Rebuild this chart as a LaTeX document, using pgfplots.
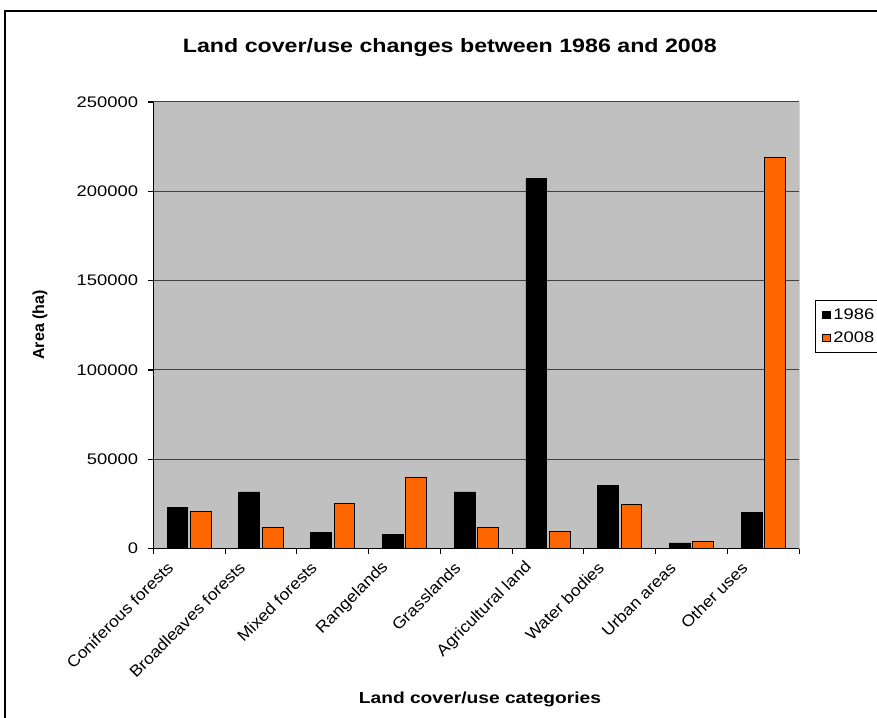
\documentclass[border=0pt]{standalone}
\usepackage{fontspec}
\setmainfont{Liberation Sans}[FakeStretch=1.2]
\newfontfamily\rotfont{Liberation Sans}
\newfontfamily\diagfont{Liberation Sans}[FakeStretch=1.1]
\usepackage{pgfplots}
\pgfplotsset{compat=1.18}
\definecolor{barorange}{RGB}{255,102,0}
\definecolor{plotgray}{RGB}{192,192,192}
\begin{document}
\begin{tikzpicture}
\path[use as bounding box] (-115pt,-127pt) rectangle (542.8pt,411.5pt);
\draw[line width=1.1pt] (-111.2pt,-300pt) rectangle (700pt,403.3pt);
\begin{axis}[
  scale only axis,
  width=484.5pt, height=335pt,
  ybar, bar width=0.29,
  xmin=-0.5, xmax=8.5,
  ymin=0, ymax=250000,
  ytick={0,50000,100000,150000,200000,250000},
  yticklabels={0,50000,100000,150000,200000,250000},
  scaled y ticks=false,
  xtick={0,...,8},
  xticklabels={Coniferous forests,Broadleaves forests,Mixed forests,Rangelands,Grasslands,Agricultural land,Water bodies,Urban areas,Other uses},
  minor xtick={-0.5,0.5,...,8.5},
  major x tick style={draw=none},
  minor x tick style={black, line width=0.8pt},
  ytick style={black, line width=0.8pt},
  tick align=outside,
  major tick length=3.75pt, minor tick length=3.75pt,
  axis x line*=bottom, axis y line*=left,
  axis line style={black, line width=1pt, -},
  ymajorgrids, grid style={black!75, line width=0.75pt},
  axis background/.style={fill=plotgray},
  x tick label style={font=\diagfont\fontsize{12}{13}\selectfont, xshift=-14pt, yshift=-8.3pt, rotate=45, anchor=east, inner sep=0pt},
  y tick label style={font=\fontsize{11.5}{13}\selectfont, anchor=east, inner sep=0pt, xshift=-7.5pt},
  title={Land cover/use changes between 1986 and 2008},
  title style={font=\bfseries\fontsize{14.5}{16}\selectfont, at={(axis description cs:0.459,1.105)}, anchor=center},
  xlabel={Land cover/use categories},
  xlabel style={font=\bfseries\fontsize{12}{14}\selectfont, at={(axis description cs:0.5057,-0.337)}, anchor=center},
  ylabel={Area (ha)},
  ylabel style={font=\rotfont\bfseries\fontsize{12}{14}\selectfont, at={(axis description cs:-0.1754,0.5008)}, anchor=center, rotate=0},
  legend style={at={(1.0248,0.557)}, anchor=north west, draw=black, line width=0.75pt, fill=white,
    font=\fontsize{11.5}{13}\selectfont, row sep=4pt, inner xsep=5pt, inner ysep=4pt},
  legend cell align=left,
  legend image code/.code={\draw[#1,line width=0.6pt] (0.5pt,-2.8pt) rectangle (6.1pt,2.8pt);},
]
\addplot[fill=black, draw=black, line width=0.6pt] coordinates {
 (0,23200) (1,31700) (2,9300) (3,7800) (4,31700) (5,207000) (6,35300) (7,3200) (8,20500)};
\addplot[fill=barorange, draw=black, line width=0.75pt] coordinates {
 (0,20900) (1,12000) (2,25200) (3,40000) (4,12000) (5,9700) (6,24500) (7,4100) (8,219000)};
\legend{1986,2008}
\draw[gray, line width=0.8pt] (rel axis cs:1,0) -- (rel axis cs:1,1);
\end{axis}
\end{tikzpicture}
\end{document}
